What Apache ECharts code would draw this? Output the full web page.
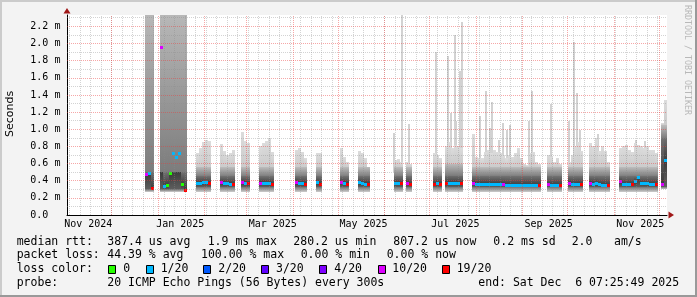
<!DOCTYPE html>
<html><head><meta charset="utf-8">
<script src="https://cdn.jsdelivr.net/npm/echarts@6/dist/echarts.min.js"></script>
<style>html,body{margin:0;padding:0;background:#f3f3f3}#c{width:697px;height:297px}</style>
</head><body><div id="c"></div><script>
// ---------- data ----------
const DAY = 86400000;
const startTime = Date.UTC(2024, 10, 1, 7, 25, 49);
const endTime = Date.UTC(2025, 11, 6, 7, 25, 49);
const binDays = 2;                 // consolidation step of the samples
const yMax = 2.332;                // ms (labelled "m" = milliseconds of seconds)

const xLabels = ['Nov 2024', 'Jan 2025', 'Mar 2025', 'May 2025', 'Jul 2025', 'Sep 2025', 'Nov 2025'];
const xLabelDates = ['2024-11-15T12:00:00Z', '2025-01-15T19:00:00Z', '2025-03-18T12:00:00Z', '2025-05-18T00:00:00Z',
                     '2025-07-18T05:00:00Z', '2025-09-18T10:00:00Z', '2025-11-18T12:00:00Z'];

// segments of data (bin index of first sample, number of 2-day samples)
const segFirstBin = [26, 31, 43, 51, 58, 64, 76, 83, 91, 97, 109, 113, 122, 126, 135, 160, 167, 174, 184, 198];
const segLen      = [3, 9, 5, 5, 3, 5, 4, 2, 3, 4, 3, 2, 3, 6, 23, 5, 5, 7, 13, 2];
const segMin = [0.27, 0.27, 0.27, 0.27, 0.27, 0.27, 0.27, 0.27, 0.27, 0.27, 0.27, 0.27, 0.27, 0.27, 0.27, 0.27, 0.27, 0.27, 0.27, 0.30];
const segP25 = [0.30, 0.30, 0.33, 0.33, 0.33, 0.33, 0.33, 0.33, 0.33, 0.33, 0.33, 0.33, 0.33, 0.33, 0.33, 0.33, 0.33, 0.33, 0.33, 0.33];
const segP75 = [0.50, 0.50, 0.45, 0.45, 0.45, 0.45, 0.45, 0.45, 0.45, 0.45, 0.45, 0.45, 0.45, 0.46, 0.45, 0.45, 0.45, 0.45, 0.45, 0.90];
const segP90 = [3.00, 3.00, 0.56, 0.56, 0.56, 0.56, 0.56, 0.56, 0.56, 0.56, 0.56, 0.56, 0.56, 0.60, 0.56, 0.56, 0.56, 0.56, 0.56, 1.05];

// per-sample values (all segments, in order)
const median = [
  0.47, 0.48, 0.31,
  1.95, 0.33, 0.34, 0.48, 0.72, 0.67, 0.72, 0.35, 0.28,
  0.37, 0.37, 0.375, 0.375, 0.365,
  0.375, 0.37, 0.365, 0.36, 0.36,
  0.375, 0.37, 0.365,
  0.37, 0.37, 0.365, 0.365, 0.36,
  0.38, 0.37, 0.365, 0.36,
  0.375, 0.36,
  0.38, 0.37, 0.36,
  0.375, 0.37, 0.36, 0.355,
  0.37, 0.37, 0.365,
  0.37, 0.35,
  0.36, 0.365, 0.36,
  0.37, 0.37, 0.37, 0.37, 0.37, 0.365,
  0.37, 0.36, 0.36, 0.36, 0.36, 0.36, 0.36, 0.36, 0.36, 0.36, 0.355, 0.345, 0.345, 0.345, 0.345, 0.345, 0.345, 0.345, 0.345, 0.345, 0.345, 0.345, 0.345,
  0.35, 0.345, 0.345, 0.345, 0.34,
  0.37, 0.36, 0.355, 0.36, 0.355,
  0.37, 0.36, 0.365, 0.35, 0.345, 0.345, 0.34,
  0.39, 0.355, 0.355, 0.355, 0.35, 0.39, 0.44, 0.37, 0.365, 0.365, 0.36, 0.36, 0.355,
  0.36, 0.63
];
const smokeMax = [
  2.5, 2.5, 2.5,
  2.5, 2.5, 2.5, 2.5, 2.5, 2.5, 2.5, 2.5, 2.5,
  0.72, 0.78, 0.85, 0.88, 0.86,
  0.83, 0.75, 0.70, 0.72, 0.76,
  0.97, 0.86, 0.84,
  0.80, 0.84, 0.86, 0.90, 0.74,
  0.76, 0.78, 0.74, 0.66,
  0.72, 0.72,
  0.78, 0.68, 0.62,
  0.75, 0.72, 0.66, 0.56,
  0.64, 0.65, 0.62,
  0.62, 0.60,
  0.72, 0.70, 0.66,
  0.80, 0.85, 0.78, 0.82, 0.80, 0.78,
  0.95, 0.68, 0.66, 0.66, 0.74, 0.76, 0.72, 0.76, 0.74, 0.72, 0.70, 0.66, 0.70, 0.68, 0.72, 0.78, 0.66, 0.60, 0.58, 0.72, 0.74, 0.62, 0.60,
  0.70, 0.68, 0.62, 0.66, 0.60,
  0.62, 0.70, 0.80, 0.85, 0.75,
  0.84, 0.80, 0.90, 0.75, 0.80, 0.75, 0.62,
  0.78, 0.80, 0.82, 0.76, 0.74, 0.84, 0.82, 0.80, 0.78, 0.80, 0.76, 0.76, 0.72,
  1.07, 1.34
];
// loss colour index: 0 -> 0, 1 -> 1/20, 2 -> 2/20, 3 -> 3/20, 4 -> 4/20, 5 -> 10/20, 6 -> 19/20
const lossIdx = [
  5, 1, 6,
  5, 1, 0, 0, 1, 1, 1, 0, 6,
  1, 1, 1, 1, 6,
  5, 1, 1, 1, 6,
  5, 1, 6,
  5, 1, 1, 1, 6,
  5, 1, 1, 6,
  1, 6,
  5, 1, 6,
  1, 1, 1, 6,
  1, 1, 6,
  5, 6,
  6, 1, 6,
  6, 1, 1, 1, 1, 6,
  5, 1, 1, 1, 1, 1, 1, 1, 1, 1, 5, 1, 1, 1, 1, 1, 1, 1, 1, 1, 1, 1, 6,
  5, 1, 1, 1, 6,
  5, 1, 1, 1, 6,
  5, 1, 1, 1, 1, 1, 6,
  5, 1, 1, 1, 6, 1, 1, 1, 1, 1, 1, 1, 6,
  5, 1
];
// thin outlier spikes: day offset from start, max rtt (ms)
const spikeDay = [218.2, 223.2, 227.7, 246.2, 253.7, 256.2, 258.4, 259.5, 261.7, 263.1,
                  275.5, 279.2, 281.9, 283.2, 288.2, 290.7, 293.3, 295.2, 308.2, 309.9,
                  322.9, 334.9, 337.9, 340.0, 342.2, 354.0, 379.5, 385.5];
const spikeMax = [0.96, 2.33, 1.06, 1.90, 1.85, 1.19, 2.10, 1.10, 1.68, 2.25,
                  1.16, 1.45, 1.02, 1.32, 0.88, 1.07, 0.99, 1.05, 1.10, 1.45,
                  1.30, 1.10, 2.02, 1.42, 0.99, 0.95, 0.87, 0.86];

const lossColors = ['#26ff00', '#00b8ff', '#0059ff', '#5e00ff', '#7e00ff', '#dd00ff', '#ff0000'];
const lossLabels = ['0', '1/20', '2/20', '3/20', '4/20', '10/20', '19/20'];

// ---------- build ----------
const items = [];
let k = 0;
segFirstBin.forEach((b0, s) => {
  for (let j = 0; j < segLen[s]; j++, k++) {
    const t0 = startTime + (b0 + j) * binDays * DAY;
    items.push([t0, t0 + binDays * DAY, segMin[s], segP25[s], median[k], segP75[s], segP90[s], smokeMax[k], lossIdx[k]]);
  }
});

const chart = echarts.init(document.getElementById('c'), null, {renderer: 'canvas'});
const G = echarts.graphic;
const grads = [['#6e6e6e', '#cacaca'], ['#3c3c3c', '#5e5e5e'], ['#707070', '#3c3c3c'], ['#bdbdbd', '#7c7c7c'], ['#dcdcdc', '#cbcbcb']];

function renderSmoke(params, api) {
  const t0 = api.value(0), t1 = api.value(1);
  const x0 = Math.round(api.coord([t0, 0])[0]), x1 = Math.round(api.coord([t1, 0])[0]);
  const Yr = v => api.coord([t0, v])[1];
  const Y = v => Math.round(Yr(Math.min(v, yMax)));
  const mn = api.value(2), p25 = api.value(3), med = api.value(4), p75 = api.value(5), p90 = api.value(6), mx = api.value(7);
  const c = Math.min(Math.max(med, p25), p75);
  const lv = [mn, p25, c, p75, Math.min(p90, mx), Math.max(mx, p75)];
  const children = [];
  for (let i = 0; i < 5; i++) {
    const yb = Y(lv[i]), yt = Y(lv[i + 1]);
    if (yb > yt) children.push({type: 'rect', shape: {x: x0, y: yt, width: x1 - x0, height: yb - yt},
      style: {fill: new G.LinearGradient(x0, Yr(lv[i + 1]), x0, Yr(lv[i]),
        [{offset: 0, color: grads[i][0]}, {offset: 1, color: grads[i][1]}], true)}});
  }
  return {type: 'group', children};
}
function renderMedian(params, api) {
  const x0 = Math.round(api.coord([api.value(0), 0])[0]), x1 = Math.round(api.coord([api.value(1), 0])[0]);
  const y = api.coord([api.value(0), api.value(4)])[1];
  return {type: 'rect', shape: {x: x0, y: Math.round(y - 1.5), width: x1 - x0, height: 3}, style: {fill: lossColors[api.value(8)]}};
}
function renderSpike(params, api) {
  const x = Math.round(api.coord([api.value(0), 0])[0]);
  const yt = Math.round(api.coord([api.value(0), Math.min(api.value(1), yMax)])[1]);
  const yb = Math.round(api.coord([api.value(0), 0.5])[1]);
  return {type: 'rect', shape: {x: x - 1, y: yt, width: 2, height: yb - yt}, style: {fill: '#d2d2d2'}};
}
function renderXLabel(params, api) {
  const p = api.coord([api.value(0), 0]);
  return {type: 'text', style: {text: xLabels[params.dataIndex], x: p[0], y: p[1] + 9.5, align: 'center', verticalAlign: 'middle',
    font: '10px "DejaVu Sans Mono"', fill: '#000'}};
}

// grid lines (ticks of the axes)
const minorStyle = {color: 'rgba(140,140,140,0.38)', width: 1, type: [1, 1]};
const majorStyle = {color: 'rgba(235,60,60,0.45)', width: 1, type: [1, 1]};
const gridMarks = [];
for (let i = 1; i <= 23; i++) gridMarks.push({yAxis: i / 10, lineStyle: i % 2 ? minorStyle : majorStyle});
for (let t = Date.UTC(2024, 10, 3); t < endTime; t += 7 * DAY) gridMarks.push({xAxis: t, lineStyle: minorStyle});
for (let m = 1; m <= 13; m++) gridMarks.push({xAxis: Date.UTC(2024, 10 + m, 1), lineStyle: majorStyle});

const F = '"DejaVu Sans Mono"';
const LF = '11.5px ' + F;
const graphic = [];
function txt(x, y, s) { graphic.push({type: 'text', x, y, silent: true, style: {text: s, font: LF, fill: '#000', align: 'left', verticalAlign: 'middle'}}); }
[[16.7, 'median rtt:'], [107.3, '387.4 us avg'], [207.7, '1.9 ms max'], [293.3, '280.2 us min'], [393.3, '807.2 us now'],
 [493.3, '0.2 ms sd'], [571.7, '2.0'], [614, 'am/s']].forEach(p => txt(p[0], 241.7, p[1]));
[[16.7, 'packet loss:'], [107.3, '44.39 % avg'], [201, '100.00 % max'], [300.7, '0.00 % min'], [386.7, '0.00 % now']].forEach(p => txt(p[0], 255.3, p[1]));
txt(16.7, 269.3, 'loss color:');
const swX = [108.3, 145.7, 203, 261, 319, 377.7, 442.3];
const swLX = [123.3, 160.7, 218.3, 276, 334.3, 392.3, 456.7];
lossLabels.forEach((l, i) => {
  graphic.push({type: 'rect', shape: {x: Math.round(swX[i]) + 0.5, y: 265.5, width: 7, height: 8}, style: {fill: lossColors[i], stroke: '#000', lineWidth: 1}});
  txt(swLX[i], 269.3, l);
});
[[16.7, 'probe:'], [107.3, '20 ICMP Echo Pings (56 Bytes) every 300s'], [478.3, 'end: Sat Dec  6 07:25:49 2025']].forEach(p => txt(p[0], 283.3, p[1]));
graphic.push({type: 'text', x: 10.5, y: 114, rotation: Math.PI / 2, style: {text: 'Seconds', font: '11px "DejaVu Sans"', fill: '#000', align: 'center', verticalAlign: 'middle'}});
graphic.push({type: 'text', x: 687.3, y: 60, rotation: -Math.PI / 2, style: {text: 'RRDTOOL / TOBI OETIKER', font: '8.3px ' + F, fill: '#b8b8b8', align: 'center', verticalAlign: 'middle'}});
// arrows
graphic.push({type: 'polygon', shape: {points: [[67, 8], [63.5, 13.5], [70.5, 13.5]]}, style: {fill: '#a01818'}, z: 10});
graphic.push({type: 'polygon', shape: {points: [[674, 215], [668.5, 211.5], [668.5, 218.5]]}, style: {fill: '#a01818'}, z: 10});
// frame
graphic.push({type: 'rect', shape: {x: 0, y: 0, width: 697, height: 2}, style: {fill: '#cbcbcb'}});
graphic.push({type: 'rect', shape: {x: 0, y: 0, width: 2, height: 297}, style: {fill: '#cbcbcb'}});
graphic.push({type: 'rect', shape: {x: 0, y: 295, width: 697, height: 2}, style: {fill: '#999'}});
graphic.push({type: 'rect', shape: {x: 695, y: 0, width: 2, height: 297}, style: {fill: '#999'}});

chart.setOption({
  animation: false,
  backgroundColor: '#f3f3f3',
  grid: {left: 67, top: 15, width: 600, height: 200, show: true, backgroundColor: '#ffffff', borderWidth: 0},
  xAxis: {type: 'time', min: startTime, max: endTime, axisLine: {show: true, lineStyle: {color: '#000', width: 1}},
    axisTick: {show: false}, axisLabel: {show: false}, splitLine: {show: false}},
  yAxis: {type: 'value', min: 0, max: yMax, interval: 0.2, axisLine: {show: true, lineStyle: {color: '#000', width: 1}},
    axisTick: {show: false}, splitLine: {show: false},
    axisLabel: {showMaxLabel: false, align: 'left', margin: 36.7, fontFamily: 'DejaVu Sans Mono', fontSize: 10, color: '#000',
      formatter: v => { const r = Math.round(v / 0.2); if (Math.abs(v / 0.2 - r) > 1e-6) return ''; return r === 0 ? '0.0' : (r * 0.2).toFixed(1) + ' m'; }}},
  series: [
    {type: 'custom', z: 1, silent: true, data: spikeDay.map((d, i) => [startTime + d * DAY, spikeMax[i]]), renderItem: renderSpike},
    {type: 'custom', z: 2, silent: true, data: items, renderItem: renderSmoke},
    {type: 'line', z: 3, data: [], silent: true, markLine: {silent: true, symbol: ['none', 'none'], label: {show: false}, animation: false, data: gridMarks}},
    {type: 'custom', z: 4, silent: true, data: items, renderItem: renderMedian},
    {type: 'custom', z: 5, silent: true, data: xLabelDates.map(s => [Date.parse(s), 0]), renderItem: renderXLabel}
  ],
  graphic
});
</script></body></html>
